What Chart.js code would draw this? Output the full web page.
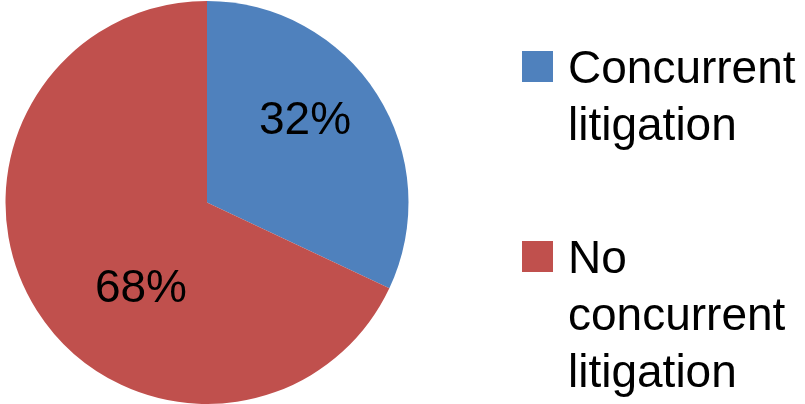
<!DOCTYPE html>
<html>
<head>
<meta charset="utf-8">
<script src="https://cdn.jsdelivr.net/npm/chart.js@4"></script>
<style>
  html, body { margin: 0; padding: 0; background: #fff; overflow: hidden; }
  #wrap { position: relative; width: 805px; height: 404px; }
  #chartBox { position: absolute; left: 0; top: 0; width: 805px; height: 404px; }
  #legend { position: absolute; left: 522px; top: 0; width: 283px; font-family: "Liberation Sans", Arial, sans-serif; font-size: 46px; line-height: 57px; color: #000; }
  .item { position: absolute; left: 0; width: 283px; }
  .sw { position: absolute; left: 0; width: 31px; height: 31px; }
  .tx { position: absolute; left: 46px; width: 237px; white-space: normal; }
</style>
</head>
<body>
<div id="wrap">
  <div id="chartBox"><canvas id="c"></canvas></div>
  <div id="legend"></div>
</div>
<script>
const categories = ["Concurrent litigation", "No concurrent litigation"];
const shares = [32, 68];
const sliceColors = ["#4F81BD", "#C0504D"];

// label placement style (angle shift in degrees, radius fraction)
const labelAngleShift = [-7.6, -19.9];
const labelRadiusFrac = [0.635, 0.536];

const pctLabels = {
  id: "pctLabels",
  afterDatasetsDraw(chart) {
    const ctx = chart.ctx;
    const meta = chart.getDatasetMeta(0);
    const data = chart.data.datasets[0].data;
    ctx.save();
    ctx.font = "46px 'Liberation Sans', Arial, sans-serif";
    ctx.fillStyle = "#000";
    ctx.textAlign = "center";
    ctx.textBaseline = "middle";
    meta.data.forEach((arc, i) => {
      const p = arc.getProps(["x", "y", "startAngle", "endAngle", "outerRadius"], true);
      const mid = (p.startAngle + p.endAngle) / 2 + labelAngleShift[i] * Math.PI / 180;
      const r = p.outerRadius * labelRadiusFrac[i];
      ctx.fillText(data[i] + "%", p.x + Math.cos(mid) * r, p.y + Math.sin(mid) * r + 1);
    });
    ctx.restore();
  }
};

const chart = new Chart(document.getElementById("c"), {
  type: "pie",
  data: {
    labels: categories,
    datasets: [{ data: shares, backgroundColor: sliceColors, borderWidth: 0 }]
  },
  options: {
    responsive: true,
    maintainAspectRatio: false,
    animation: false,
    layout: { padding: { left: 5, top: 1, right: 396, bottom: 0 } },
    plugins: { legend: { display: false }, tooltip: { enabled: false } }
  },
  plugins: [pctLabels]
});

// HTML legend built from chart data
const legendTops = [39, 229];
const legendEl = document.getElementById("legend");
chart.options.plugins.legend.labels = chart.options.plugins.legend.labels || {};
const items = Chart.overrides.pie.plugins.legend.labels.generateLabels(chart);
items.forEach((it, i) => {
  const div = document.createElement("div");
  div.className = "item";
  div.style.top = legendTops[i] + "px";
  const sw = document.createElement("div");
  sw.className = "sw";
  sw.style.top = "12px";
  sw.style.background = it.fillStyle;
  const tx = document.createElement("div");
  tx.className = "tx";
  tx.textContent = it.text;
  div.appendChild(sw);
  div.appendChild(tx);
  legendEl.appendChild(div);
});
</script>
</body>
</html>
